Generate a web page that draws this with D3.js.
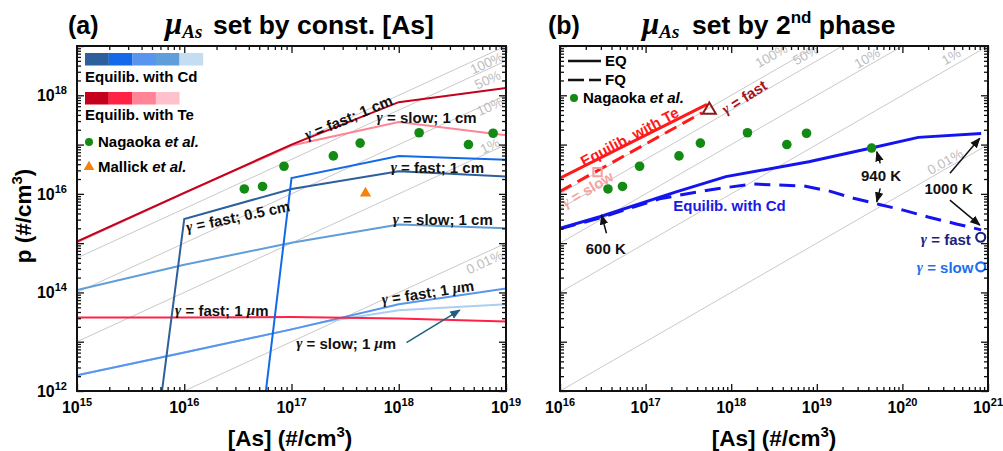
<!DOCTYPE html>
<html>
<head>
<meta charset="utf-8">
<script src="https://cdn.jsdelivr.net/npm/d3@7"></script>
<style>
  body { margin: 0; background: #fff; }
  svg { font-family: "Liberation Sans", Arial, sans-serif; font-weight: bold; }
</style>
</head>
<body>
<svg id="chart" width="1003" height="451"></svg>
<script>
// all values are log10 of [As] and p

// constant-fraction guide lines (p = f * [As])
const pctFractions = [1, 0.5, 0.1, 0.01, 0.0001];
const pctLabels = ["100%", "50%", "10%", "1%", "0.01%"];
const pctLabelPosA = [[18.82, 18.65], [18.83, 18.31], [18.85, 17.77], [18.85, 16.97], [18.80, 14.61]];
const pctLabelPosB = [[18.47, 18.80], [18.87, 18.82], [19.59, 18.75], [20.57, 18.78], [20.50, 16.65]];

// experiments
const nagaokaAs = [16.56, 16.73, 16.93, 17.39, 17.64, 18.19, 18.65, 18.88, 19.64];
const nagaokaP  = [16.10, 16.15, 16.56, 16.77, 17.03, 17.24, 17.00, 17.23, 16.93];
const mallickAs = [17.69];
const mallickP  = [16.01];

// legend swatches of panel (a)
const cdSwatches = ["#2d5f9c", "#1469e8", "#5895ee", "#5f9ed8", "#c5ddf0"];
const teSwatches = ["#c4001c", "#ff2244", "#ff8496", "#ffc2cc"];

// panel (a) curves: [log As, log p]
const teSlow1cm  = [[15, 15.03], [16, 16.02], [17, 16.98], [18, 17.46], [19, 17.19]];
const teFast1cm  = [[15, 15.03], [16, 16.02], [17, 17.0], [18, 17.86], [19, 18.15]];
const teFast1um  = [[15, 13.49], [16, 13.49], [17, 13.50], [18, 13.47], [19, 13.41]];
const cdFast05cm = [[15.733, 11], [16, 15.49], [17, 16.1], [18, 16.46], [19, 16.35]];
const cdFast1cm  = [[16.706, 11], [17, 16.32], [18, 16.77], [19, 16.69]];
const cdSlow1cm  = [[15, 14.05], [16, 14.56], [17, 15.01], [18, 15.38], [19, 15.30]];
const cdSlow1um  = [[15, 12.32], [16, 12.78], [17, 13.25], [17.3, 13.40], [18, 13.64], [19, 13.76]];
const cdFast1um  = [[15, 12.32], [16, 12.78], [17, 13.25], [18, 13.76], [19, 14.08]];

// panel (b) curves
const teEQ = [[16, 16.32], [17.717, 17.815]];
const teFQ = [[16, 16.05], [17.659, 17.645]];
const cdEQ = [[16, 15.30], [16.465, 15.535], [17.357, 16.04], [17.938, 16.35], [18.907, 16.65],
              [19.636, 16.93], [20.186, 17.146], [20.92, 17.227]];
const cdFQ = [[16, 15.29], [16.465, 15.51], [17.163, 15.90], [17.744, 16.08], [18.244, 16.20],
              [18.849, 16.16], [19.14, 16.06], [19.43, 15.91], [19.72, 15.79], [20.01, 15.67],
              [20.30, 15.53], [20.63, 15.39], [20.92, 15.27]];
const teFastEnd = [17.744, 17.70];
const teSlowEnd = [16.438, 16.44];
const cdFastEnd = [20.915, 15.12];
const cdSlowEnd = [20.915, 14.52];

const svg = d3.select("#chart");
const defs = svg.append("defs");

// arrow heads
[["arrK", "#111"], ["arrT", "#1f5f80"]].forEach(([id, c]) => {
  defs.append("marker").attr("id", id).attr("viewBox", "0 0 10 10")
    .attr("refX", 9).attr("refY", 5).attr("markerWidth", 7).attr("markerHeight", 7)
    .attr("orient", "auto")
    .append("path").attr("d", "M0,1 L10,5 L0,9 Z").attr("fill", c);
});

// text with serif italic greek letters
function richText(sel, s) {
  s.split(/([γμ])/).filter(d => d).forEach(part => {
    const t = sel.append("tspan").text(part);
    if (part === "γ" || part === "μ") t.attr("font-family", "Liberation Serif, serif").attr("font-style", "italic");
  });
}

function makePanel(id, xRange, xDec) {
  const x = d3.scaleLog().domain([10 ** xDec[0], 10 ** xDec[1]]).range(xRange);
  const y = d3.scaleLog().domain([1e12, 1e19]).range([391, 46]);
  const g = svg.append("g");
  defs.append("clipPath").attr("id", "clip" + id).append("rect")
    .attr("x", xRange[0]).attr("y", 46).attr("width", xRange[1] - xRange[0]).attr("height", 345);
  const plot = g.append("g").attr("clip-path", `url(#clip${id})`);
  const px = d => x(10 ** d[0]);
  const py = d => y(10 ** d[1]);
  return {x, y, g, plot, px, py, xDec};
}

function drawGuides(P, labelPos) {
  const [lo, hi] = P.xDec;
  const ang = Math.atan2(P.y(1e12) - P.y(1e13), P.x(10 ** (lo + 1)) - P.x(10 ** lo)) * 180 / Math.PI;
  P.plot.selectAll(".guide").data(pctFractions).join("line")
    .attr("x1", P.x(10 ** lo)).attr("y1", f => P.y(f * 10 ** lo))
    .attr("x2", P.x(10 ** hi)).attr("y2", f => P.y(f * 10 ** hi))
    .attr("stroke", "#c9c9c9").attr("stroke-width", 1);
  P.g.selectAll(".glab").data(pctLabels).join("text")
    .attr("transform", (d, i) => `translate(${P.px(labelPos[i])},${P.py(labelPos[i])}) rotate(${-ang})`)
    .attr("text-anchor", "middle").attr("dominant-baseline", "central")
    .attr("font-size", 13.5).attr("font-weight", "normal").attr("fill", "#bdbdbd")
    .text(d => d);
}

function drawLine(P, data, color, width, dash) {
  P.plot.append("path").datum(data)
    .attr("d", d3.line().x(P.px).y(P.py))
    .attr("fill", "none").attr("stroke", color).attr("stroke-width", width)
    .attr("stroke-dasharray", dash || null);
}

function drawFrame(P, xLabels, yLabels) {
  const {x, y, g} = P;
  const [x0, x1] = x.range();
  const [y0, y1] = y.range();
  const minor = (a, b) => d3.range(a, b).flatMap(e => d3.range(2, 10).map(k => k * 10 ** e));
  const xMaj = d3.range(P.xDec[0], P.xDec[1] + 1).map(e => 10 ** e);
  const xMin = minor(P.xDec[0], P.xDec[1]);
  const yMaj = d3.range(12, 20).map(e => 10 ** e);
  const yMin = minor(12, 19);
  const axes = [
    [d3.axisBottom(x), `translate(0,${y0})`, xMaj, xMin],
    [d3.axisTop(x), `translate(0,${y1})`, xMaj, xMin],
    [d3.axisLeft(y), `translate(${x0},0)`, yMaj, yMin],
    [d3.axisRight(y), `translate(${x1},0)`, yMaj, yMin]
  ];
  axes.forEach(([ax, tr, maj, mn]) => {
    [[maj, 7], [mn, 4]].forEach(([vals, len]) => {
      const a = g.append("g").attr("transform", tr)
        .call(ax.tickValues(vals).tickSizeInner(-len).tickSizeOuter(0).tickFormat(""));
      a.select(".domain").remove();
      a.selectAll("line").attr("stroke", "#111").attr("stroke-width", 1.3);
    });
  });
  g.append("rect").attr("x", x0).attr("y", y1).attr("width", x1 - x0).attr("height", y0 - y1)
    .attr("fill", "none").attr("stroke", "#111").attr("stroke-width", 2);

  g.selectAll(".xl").data(xLabels).join("text")
    .attr("x", e => x(10 ** e)).attr("y", y0 + 22).attr("text-anchor", "middle").attr("font-size", 16)
    .each(function(e) {
      const t = d3.select(this);
      t.append("tspan").text("10");
      t.append("tspan").attr("dy", -7).attr("font-size", 11).text(e);
    });
  g.selectAll(".yl").data(yLabels).join("text")
    .attr("x", x0 - 10).attr("y", e => y(10 ** e) + 6).attr("text-anchor", "end").attr("font-size", 16)
    .each(function(e) {
      const t = d3.select(this);
      t.append("tspan").text("10");
      t.append("tspan").attr("dy", -7).attr("font-size", 11).text(e);
    });
}

function drawNotes(P, notes) {
  notes.forEach(n => {
    const t = P.g.append("text")
      .attr("transform", `translate(${P.px(n.p)},${P.py(n.p)}) rotate(${n.r || 0})`)
      .attr("text-anchor", n.anchor || "middle").attr("dominant-baseline", "central")
      .attr("font-size", 15).attr("fill", n.c || "#111");
    richText(t, n.t);
  });
}

function drawArrows(P, arrows, color, marker) {
  arrows.forEach(([a, b]) => {
    P.g.append("line")
      .attr("x1", P.px(a)).attr("y1", P.py(a)).attr("x2", P.px(b)).attr("y2", P.py(b))
      .attr("stroke", color).attr("stroke-width", 1.5).attr("marker-end", `url(#${marker})`);
  });
}

function title(xLab, xMu, xRest, parts) {
  svg.append("text").attr("x", xLab).attr("y", 34).attr("font-size", 25).text(parts[0]);
  const m = svg.append("text").attr("x", xMu).attr("y", 34)
    .attr("font-family", "Liberation Serif, serif").attr("font-style", "italic");
  m.append("tspan").attr("font-size", 31).text("μ");
  m.append("tspan").attr("font-size", 19).attr("dy", 4).text("As");
  const r = svg.append("text").attr("x", xRest).attr("y", 34).attr("font-size", 26.5);
  r.append("tspan").text(parts[1]);
  if (parts[2]) {
    r.append("tspan").attr("dy", -11).attr("font-size", 17).text(parts[2]);
    r.append("tspan").attr("dy", 11).text(parts[3]);
  }
}

function axisTitle(cx) {
  const t = svg.append("text").attr("x", cx).attr("y", 446).attr("text-anchor", "middle").attr("font-size", 22.5);
  t.append("tspan").text("[As] (#/cm");
  t.append("tspan").attr("dy", -9).attr("font-size", 15).text("3");
  t.append("tspan").attr("dy", 9).text(")");
}

// ---------------- panel (a) ----------------
const A = makePanel("A", [77, 506], [15, 19]);
drawGuides(A, pctLabelPosA);
drawLine(A, cdSlow1um, "#aacff2", 2);
drawLine(A, cdFast1um, cdSwatches[2], 2);
drawLine(A, cdSlow1cm, cdSwatches[3], 2);
drawLine(A, teFast1um, teSwatches[1], 2);
drawLine(A, cdFast05cm, cdSwatches[0], 2);
drawLine(A, cdFast1cm, cdSwatches[1], 2);
drawLine(A, teSlow1cm, teSwatches[2], 2);
drawLine(A, teFast1cm, teSwatches[0], 2);

A.plot.selectAll(".nag").data(nagaokaAs.slice(0, 8)).join("circle")
  .attr("cx", d => A.x(10 ** d)).attr("cy", (d, i) => A.y(10 ** nagaokaP[i]))
  .attr("r", 4.8).attr("fill", "#138a13");
A.plot.selectAll(".mal").data(mallickAs).join("path")
  .attr("transform", (d, i) => `translate(${A.x(10 ** d)},${A.y(10 ** mallickP[i])})`)
  .attr("d", d3.symbol(d3.symbolTriangle, 55)).attr("fill", "#f5820f");

drawNotes(A, [
  {t: "γ = fast; 1 cm", p: [17.53, 17.56], r: -23},
  {t: "γ = slow; 1 cm", p: [18.26, 17.56]},
  {t: "γ = fast; 1 cm", p: [18.36, 16.55]},
  {t: "γ = fast; 0.5 cm", p: [16.50, 15.55], r: -12},
  {t: "γ = slow; 1 cm", p: [18.41, 15.50]},
  {t: "γ = fast; 1 μm", p: [18.27, 14.01], r: -9},
  {t: "γ = fast; 1 μm", p: [16.35, 13.64]},
  {t: "γ = slow; 1 μm", p: [17.51, 12.97]}
]);
drawArrows(A, [[[18.072, 12.98], [18.569, 13.64]]], "#1f5f80", "arrT");
drawFrame(A, [15, 16, 17, 18, 19], [12, 14, 16, 18]);

// legend (a)
const legA = A.g.append("g");
legA.selectAll(".cds").data(cdSwatches).join("rect")
  .attr("x", (d, i) => 85 + i * 23.6).attr("y", 53).attr("width", 23.8).attr("height", 12.5).attr("fill", d => d);
legA.append("text").attr("x", 85).attr("y", 82).attr("font-size", 15).text("Equilib. with Cd");
legA.selectAll(".tes").data(teSwatches).join("rect")
  .attr("x", (d, i) => 85 + i * 23.6).attr("y", 92).attr("width", 23.8).attr("height", 12.5).attr("fill", d => d);
legA.append("text").attr("x", 85).attr("y", 120).attr("font-size", 15).text("Equilib. with Te");
legA.append("circle").attr("cx", 89).attr("cy", 142).attr("r", 4).attr("fill", "#138a13");
const nA = legA.append("text").attr("x", 98).attr("y", 147).attr("font-size", 15);
nA.append("tspan").text("Nagaoka ");
nA.append("tspan").attr("font-style", "italic").text("et al.");
legA.append("path").attr("transform", "translate(89,167)").attr("d", d3.symbol(d3.symbolTriangle, 50)).attr("fill", "#f5820f");
const mA = legA.append("text").attr("x", 98).attr("y", 172).attr("font-size", 15);
mA.append("tspan").text("Mallick ");
mA.append("tspan").attr("font-style", "italic").text("et al.");

// ---------------- panel (b) ----------------
const B = makePanel("B", [560, 988], [16, 21]);
drawGuides(B, pctLabelPosB);
drawLine(B, teEQ, "#ff1a1a", 3);
drawLine(B, teFQ, "#ff1a1a", 3, "13,7");
drawLine(B, cdFQ, "#1414ee", 3, "16,9");
drawLine(B, cdEQ, "#1414ee", 3);

B.plot.selectAll(".nag").data(nagaokaAs).join("circle")
  .attr("cx", d => B.x(10 ** d)).attr("cy", (d, i) => B.y(10 ** nagaokaP[i]))
  .attr("r", 4.8).attr("fill", "#138a13");
B.g.append("path").attr("transform", `translate(${B.px(teFastEnd)},${B.py(teFastEnd)})`)
  .attr("d", d3.symbol(d3.symbolTriangle, 75)).attr("fill", "none").attr("stroke", "#8b1a1a").attr("stroke-width", 2);
B.g.append("path").attr("transform", `translate(${B.px(teSlowEnd)},${B.py(teSlowEnd)})`)
  .attr("d", d3.symbol(d3.symbolSquare, 70)).attr("fill", "none").attr("stroke", "#f4a0a0").attr("stroke-width", 2);
B.g.append("circle").attr("cx", B.px(cdFastEnd)).attr("cy", B.py(cdFastEnd)).attr("r", 4.5)
  .attr("fill", "none").attr("stroke", "#1a237e").attr("stroke-width", 2.2);
B.g.append("circle").attr("cx", B.px(cdSlowEnd)).attr("cy", B.py(cdSlowEnd)).attr("r", 4.5)
  .attr("fill", "none").attr("stroke", "#1e6ef0").attr("stroke-width", 2.2);

drawNotes(B, [
  {t: "Equilib. with Te", p: [16.81, 17.17], r: -28, c: "#ff1a1a"},
  {t: "γ = slow", p: [16.32, 16.10], r: -31, c: "#f4a3a3"},
  {t: "γ = fast", p: [18.15, 17.97], r: -33, c: "#a3121c"},
  {t: "Equilib. with Cd", p: [17.98, 15.77], c: "#1a1ae6"},
  {t: "600 K", p: [16.535, 14.90]},
  {t: "940 K", p: [19.75, 16.38]},
  {t: "1000 K", p: [20.54, 16.11]},
  {t: "γ = fast", p: [20.80, 15.08], anchor: "end", c: "#1a237e"},
  {t: "γ = slow", p: [20.83, 14.52], anchor: "end", c: "#1e6ef0"}
]);
drawArrows(B, [
  [[16.543, 15.20], [16.485, 15.57]],
  [[19.741, 16.619], [19.701, 16.854]],
  [[19.741, 16.112], [19.701, 15.840]],
  [[20.555, 16.416], [20.904, 17.126]],
  [[20.555, 15.874], [20.904, 15.367]]
], "#111", "arrK");
drawFrame(B, [16, 17, 18, 19, 20, 21], []);

// legend (b)
const legB = B.g.append("g");
legB.append("line").attr("x1", 568).attr("x2", 601).attr("y1", 61).attr("y2", 61).attr("stroke", "#111").attr("stroke-width", 2.5);
legB.append("text").attr("x", 605).attr("y", 66).attr("font-size", 15).text("EQ");
legB.append("line").attr("x1", 568).attr("x2", 601).attr("y1", 80).attr("y2", 80).attr("stroke", "#111").attr("stroke-width", 2.5)
  .attr("stroke-dasharray", "16,5");
legB.append("text").attr("x", 605).attr("y", 85).attr("font-size", 15).text("FQ");
legB.append("circle").attr("cx", 574).attr("cy", 98).attr("r", 4).attr("fill", "#138a13");
const nB = legB.append("text").attr("x", 583).attr("y", 103).attr("font-size", 15);
nB.append("tspan").text("Nagaoka ");
nB.append("tspan").attr("font-style", "italic").text("et al.");

// titles and axis titles
title(68, 165, 213, ["(a)", "set by const. [As]"]);
title(548, 642, 692, ["(b)", "set by 2", "nd", " phase"]);
axisTitle(290);
axisTitle(774);
const yt = svg.append("text").attr("transform", "translate(31,216) rotate(-90)")
  .attr("text-anchor", "middle").attr("font-size", 22.5);
yt.append("tspan").text("p (#/cm");
yt.append("tspan").attr("dy", -9).attr("font-size", 15).text("3");
yt.append("tspan").attr("dy", 9).text(")");
</script>
</body>
</html>
